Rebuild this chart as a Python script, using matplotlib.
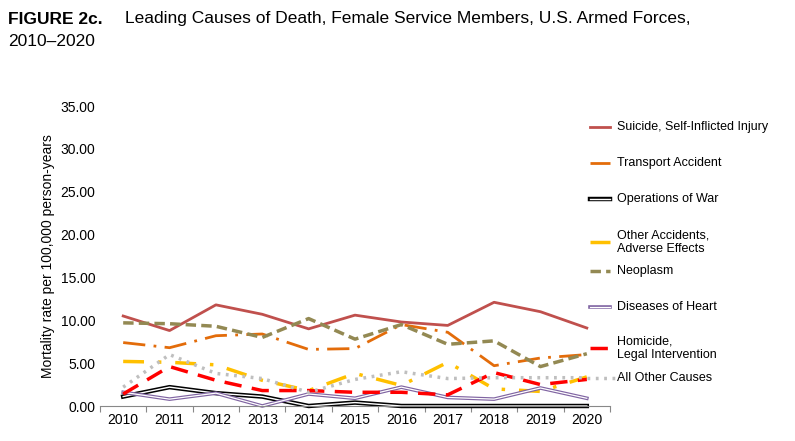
import matplotlib
matplotlib.use("Agg")
import matplotlib.pyplot as plt
from matplotlib.lines import Line2D

plt.rcParams['font.family'] = ['Liberation Sans', 'DejaVu Sans']

years = list(range(2010, 2021))
suicide = [10.5, 8.8, 11.8, 10.7, 9.0, 10.6, 9.8, 9.4, 12.1, 11.0, 9.1]
transport = [7.4, 6.8, 8.2, 8.4, 6.6, 6.7, 9.5, 8.6, 4.7, 5.6, 6.0]
war = [1.1, 2.2, 1.5, 1.1, 0.0, 0.4, 0.0, 0.0, 0.0, 0.0, 0.0]
other_acc = [5.2, 5.1, 4.8, 3.0, 1.8, 3.8, 2.4, 5.1, 2.0, 1.7, 3.4]
neoplasm = [9.7, 9.6, 9.3, 8.0, 10.2, 7.8, 9.5, 7.2, 7.6, 4.6, 6.1]
heart = [1.6, 0.8, 1.5, 0.0, 1.4, 0.9, 2.2, 1.0, 0.8, 2.1, 0.9]
homicide = [1.4, 4.6, 3.0, 1.8, 1.8, 1.6, 1.6, 1.3, 3.9, 2.5, 3.1]
all_other = [2.2, 6.0, 3.8, 3.2, 1.6, 3.1, 4.0, 3.2, 3.3, 3.3, 3.3]

fig = plt.figure(figsize=(7.95, 4.41), dpi=100)
ax = fig.add_axes([100/795, 1-406/441, 510/795, 300/441])
ax.set_xlim(2009.5, 2020.5)
ax.set_ylim(0, 35)

styles = [
    ("Suicide, Self-Inflicted Injury", suicide, dict(color="#c0504d", lw=2, ls="-")),
    ("Transport Accident", transport, dict(color="#e36c0a", lw=2, ls=(0, (8, 3, 1, 3)))),
    ("Operations of War", war, "double_black"),
    ("Other Accidents,\nAdverse Effects", other_acc, dict(color="#ffc000", lw=2.5, ls=(0, (6, 4, 1, 4)))),
    ("Neoplasm", neoplasm, dict(color="#938953", lw=2.5, ls=(0, (3, 1.5)))),
    ("Diseases of Heart", heart, "double_purple"),
    ("Homicide,\nLegal Intervention", homicide, dict(color="#ff0000", lw=2.5, ls=(0, (5, 3)))),
    ("All Other Causes", all_other, dict(color="#bfbfbf", lw=2.5, ls=(0, (0.8, 1.6)))),
]

def draw(a, x, y, st):
    if st == "double_black":
        a.plot(x, y, color="black", lw=3.2, clip_on=False)
        a.plot(x, y, color="white", lw=1.0, clip_on=False)
    elif st == "double_purple":
        a.plot(x, y, color="#8064a2", lw=2.6, clip_on=False)
        a.plot(x, y, color="white", lw=0.9, clip_on=False)
    else:
        a.plot(x, y, clip_on=False, **st)

for name, vals, st in styles:
    draw(ax, years, vals, st)

# extend All Other Causes to legend label
ax.plot([2020, 2020.65], [all_other[-1], all_other[-1]], color="#bfbfbf", lw=2.5,
        ls=(0, (0.8, 1.6)), clip_on=False)

leg_y = [127, 163, 199, 242, 271, 307, 348, 378]
for (name, vals, st), py in zip(styles, leg_y):
    yf = 1 - py/441
    if name != "All Other Causes":
        lx = [590/795, 610/795]
        if st == "double_black":
            fig.add_artist(Line2D(lx, [yf, yf], color="black", lw=3.2))
            fig.add_artist(Line2D(lx, [yf, yf], color="white", lw=1.0))
        elif st == "double_purple":
            fig.add_artist(Line2D(lx, [yf, yf], color="#8064a2", lw=2.6))
            fig.add_artist(Line2D(lx, [yf, yf], color="white", lw=0.9))
        else:
            fig.add_artist(Line2D(lx, [yf, yf], **st))
    fig.text(617/795, yf, name, ha="left", va="center", fontsize=9)

for s in ["top", "right", "left"]:
    ax.spines[s].set_visible(False)
ax.spines["bottom"].set_color("#888888")
ax.set_xticks([y - 0.5 for y in years] + [2020.5])
ax.set_xticklabels([])
ax.set_xticks(years, minor=True)
ax.set_xticklabels([str(y) for y in years], minor=True, fontsize=10)
ax.tick_params(axis="x", which="minor", length=0, pad=5)
ax.tick_params(axis="x", which="major", length=4, color="#888888", direction="out")
ax.set_yticks([0, 5, 10, 15, 20, 25, 30, 35])
ax.set_yticklabels([f"{v:.2f}" for v in [0, 5, 10, 15, 20, 25, 30, 35]], fontsize=10)
ax.tick_params(axis="y", length=0)
ax.set_ylabel("Mortality rate per 100,000 person-years", fontsize=10)

fig.text(8/795, 1-19/441, "FIGURE 2c.", fontsize=12.5, fontweight="bold", va="center", ha="left")
fig.text(125/795, 1-19/441, "Leading Causes of Death, Female Service Members, U.S. Armed Forces,",
         fontsize=12.5, va="center", ha="left")
fig.text(8/795, 1-42/441, "2010\u20132020", fontsize=12.5, va="center", ha="left")

fig.savefig("out.png", dpi=100)
